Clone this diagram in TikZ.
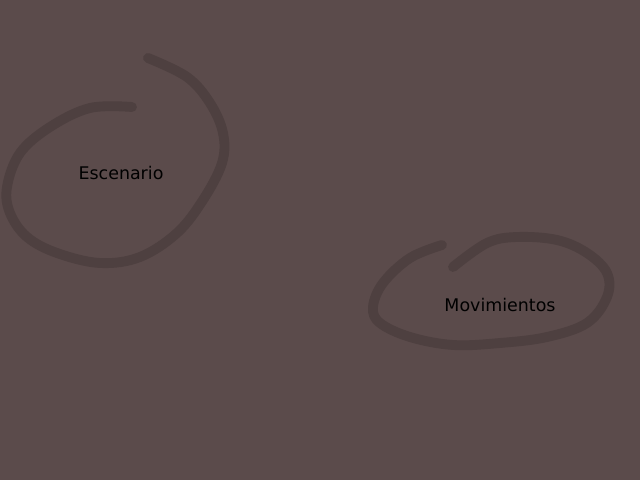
\documentclass[tikz,border=0pt]{standalone}
\usepackage{fontspec}
\setmainfont{DejaVu Sans}
\definecolor{fondo}{RGB}{91,75,75}
\definecolor{trazo}{RGB}{78,64,64}
\begin{document}
\begin{tikzpicture}[x=0.025cm, y=-0.025cm, font=\fontsize{12.4}{14}\selectfont,
    trazo/.style={draw=trazo, line width=7pt, line cap=round, line join=round}]
  \fill[fondo] (0,0) rectangle (640,480);
  \draw[trazo] plot[smooth, tension=0.6] coordinates {(132,107) (90,108) (50,127) (20,153) (7,187) (10,213) (27,237) (57,253) (100,263) (140,257) (177,233) (203,200) (222,163) (223,133) (210,103) (187,77) (148,58)};
  \draw[trazo] plot[smooth, tension=0.6] coordinates {(442,245) (410,258) (383,283) (373,307) (380,323) (410,337) (453,345) (500,343) (547,337) (587,323) (607,297) (607,273) (587,253) (557,240) (517,237) (487,243) (453,267)};
  \node (escenario) at (121,173) {Escenario};
  \node (movimientos) at (500,305) {Movimientos};
\end{tikzpicture}
\end{document}
